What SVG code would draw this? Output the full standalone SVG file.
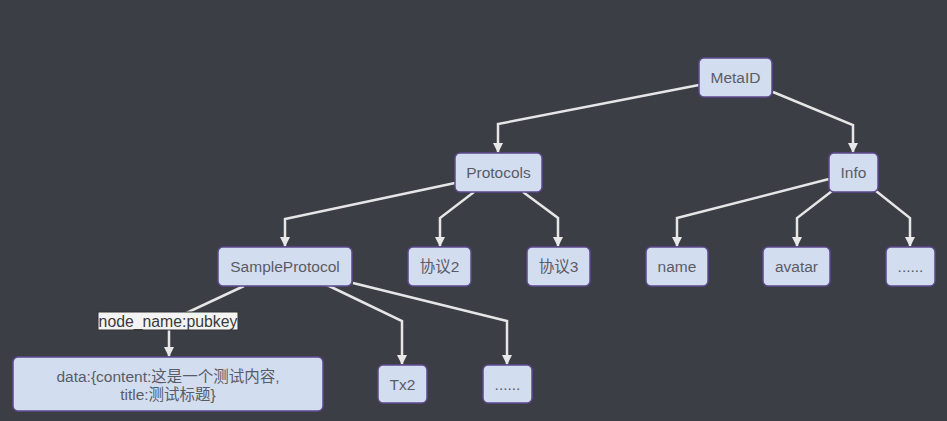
<svg xmlns="http://www.w3.org/2000/svg" width="947" height="421" viewBox="0 0 947 421">
<defs>
<marker id="arr" markerWidth="10" markerHeight="10" refX="9" refY="5" orient="auto" markerUnits="userSpaceOnUse">
<path d="M0,0 L10,5 L0,10 Z" fill="#e8e8e8"/>
</marker>
<style>
.n rect{fill:#d3ddf0;stroke:#5e4a8e;stroke-width:1.5}
.n text{font-family:"Liberation Sans","Noto Sans CJK SC",sans-serif;font-size:15.5px;fill:#595c66;text-anchor:middle;dominant-baseline:central}
.c polyline{fill:none;stroke:#e6e6e6;stroke-width:2.5;marker-end:url(#arr)}
.lbl rect{fill:#f4f4f4;stroke:#333;stroke-width:1}
.lbl text{font-family:"Liberation Sans",sans-serif;font-size:15.8px;fill:#3a3a3a;text-anchor:middle;dominant-baseline:central}
</style>
</defs>
<rect width="947" height="421" fill="#3b3e45"/>
<g id="connectors" class="c">
<polyline points="699,85 498,124 498,152"/>
<polyline points="773,92 853,125 853,152"/>
<polyline points="455,183 285,219 285,246"/>
<polyline points="474,192 440,218 440,246"/>
<polyline points="523,192 558,218 558,246"/>
<polyline points="829,179 677,218 677,246"/>
<polyline points="832,191 797,218 797,246"/>
<polyline points="876,191 910,218 910,246"/>
<polyline points="244,286 169,321 169,356"/>
<polyline points="327,285 402,321 402,364"/>
<polyline points="353,283 507,321 507,364"/>
</g>
<g id="label-pubkey" class="lbl">
<rect x="98" y="312" width="140" height="18"/>
<text x="168" y="321">node_name:pubkey</text>
</g>
<g id="n-metaid" class="n"><rect x="699" y="58" width="73" height="39" rx="5"/><text x="735.5" y="77.5">MetaID</text></g>
<g id="n-protocols" class="n"><rect x="455" y="153" width="87" height="39" rx="5"/><text x="498.5" y="172.5">Protocols</text></g>
<g id="n-info" class="n"><rect x="829" y="153" width="49" height="39" rx="5"/><text x="853.5" y="172.5">Info</text></g>
<g id="n-sample" class="n"><rect x="218" y="247" width="134" height="39" rx="5"/><text x="285" y="266.5">SampleProtocol</text></g>
<g id="n-xieyi2" class="n"><rect x="408" y="247" width="63" height="39" rx="5"/><text x="439.5" y="266.5">协议2</text></g>
<g id="n-xieyi3" class="n"><rect x="527" y="247" width="63" height="39" rx="5"/><text x="558.5" y="266.5">协议3</text></g>
<g id="n-name" class="n"><rect x="646" y="247" width="62" height="39" rx="5"/><text x="677" y="266.5">name</text></g>
<g id="n-avatar" class="n"><rect x="763" y="247" width="67" height="39" rx="5"/><text x="796.5" y="266.5">avatar</text></g>
<g id="n-more1" class="n"><rect x="886" y="247" width="49" height="39" rx="5"/><text x="910.5" y="266.5">......</text></g>
<g id="n-data" class="n"><rect x="13" y="357" width="310" height="54" rx="5"/><text x="168" y="376">data:{content:这是一个测试内容,</text><text x="168" y="394">title:测试标题}</text></g>
<g id="n-tx2" class="n"><rect x="378" y="365" width="49" height="38" rx="5"/><text x="402.5" y="384">Tx2</text></g>
<g id="n-more2" class="n"><rect x="483" y="365" width="49" height="38" rx="5"/><text x="507.5" y="384">......</text></g>
</svg>
